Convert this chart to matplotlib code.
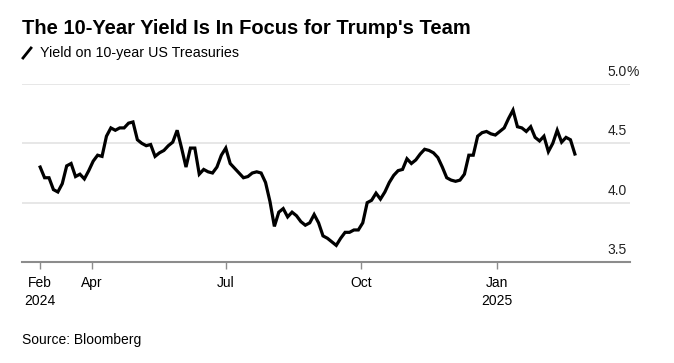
import numpy as np
import pandas as pd
import matplotlib
matplotlib.use('Agg')
import matplotlib.pyplot as plt
import matplotlib.dates as mdates
import matplotlib.transforms as mtransforms
from matplotlib.lines import Line2D

plt.rcParams['font.family'] = ['Liberation Sans', 'DejaVu Sans']

# yield on 10-year US Treasuries, read every 3 days starting 2024-02-26
start = '2024-02-26'
yields = [
    4.30, 4.21, 4.21, 4.11, 4.09, 4.16, 4.31, 4.33, 4.22, 4.24,
    4.20, 4.27, 4.35, 4.40, 4.39, 4.56, 4.63, 4.61, 4.63, 4.63,
    4.67, 4.68, 4.53, 4.50, 4.48, 4.49, 4.39, 4.42, 4.44, 4.48,
    4.51, 4.61, 4.46, 4.30, 4.46, 4.46, 4.24, 4.28, 4.26, 4.25,
    4.30, 4.40, 4.46, 4.33, 4.29, 4.25, 4.21, 4.22, 4.25, 4.26,
    4.25, 4.17, 4.01, 3.80, 3.92, 3.95, 3.88, 3.92, 3.89, 3.84,
    3.81, 3.83, 3.90, 3.83, 3.72, 3.70, 3.67, 3.64, 3.70, 3.75,
    3.75, 3.77, 3.77, 3.83, 4.00, 4.02, 4.08, 4.03, 4.09, 4.17,
    4.23, 4.27, 4.28, 4.37, 4.33, 4.36, 4.41, 4.45, 4.44, 4.42,
    4.38, 4.30, 4.21, 4.19, 4.18, 4.19, 4.24, 4.40, 4.40, 4.56,
    4.59, 4.60, 4.58, 4.57, 4.60, 4.63, 4.71, 4.78, 4.64, 4.63,
    4.60, 4.64, 4.55, 4.52, 4.56, 4.43, 4.50, 4.61, 4.51, 4.55,
    4.53, 4.41,
]
dates = pd.date_range(start, periods=len(yields), freq='3D')

tick_dates = ['2024-02-26', '2024-04-01', '2024-07-01', '2024-10-01', '2025-01-01']
tick_labels = ['Feb\n2024', 'Apr', 'Jul', 'Oct', 'Jan\n2025']
y_ticks = [3.5, 4.0, 4.5, 5.0]
y_labels = ['3.5', '4.0', '4.5', '5.0']

W, H = 674, 363
fig = plt.figure(figsize=(W / 100, H / 100), dpi=100)
ax = fig.add_axes([22 / W, 1 - 262 / H, (630 - 22) / W, (262 - 84) / H])

ax.plot(dates, yields, color='black', lw=2.3, solid_joinstyle='miter')

ax.set_ylim(3.5, 5.0)
ax.set_xlim(pd.Timestamp('2024-02-13 16:00'), pd.Timestamp('2025-04-01 10:00'))

for v in y_ticks[1:]:
    ax.axhline(v, color='#e3e3e3', lw=1.2, zorder=0)
for s in ['top', 'right', 'left']:
    ax.spines[s].set_visible(False)
ax.spines['bottom'].set_color('#8c8c8c')
ax.spines['bottom'].set_linewidth(1.5)

ax.set_yticks([])
ax.set_xticks(pd.to_datetime(tick_dates))
ax.set_xticklabels(tick_labels, fontsize=10, linespacing=1.4)
ax.tick_params(axis='x', length=5, width=1, color='#8c8c8c', pad=5)

off = mtransforms.offset_copy(ax.get_yaxis_transform(), fig=fig, x=0, y=8, units='dots')
for v, lab in zip(y_ticks, y_labels):
    ax.text(0.995, v, lab, transform=off, ha='right', va='baseline', fontsize=10, color='#222222')
ax.text(0.995, y_ticks[-1], '%', transform=off, ha='left', va='baseline', fontsize=10, color='#222222')

fig.text(22 / W, 1 - 28 / H, "The 10-Year Yield Is In Focus for Trump's Team",
         fontsize=14.5, fontweight='bold', va='center', ha='left')
fig.add_artist(Line2D([23 / W, 31 / W], [1 - 58 / H, 1 - 48 / H], color='black', lw=2))
fig.text(40 / W, 1 - 53 / H, 'Yield on 10-year US Treasuries', fontsize=10.3, va='center', ha='left')
fig.text(22 / W, 1 - 340 / H, 'Source: Bloomberg', fontsize=10, va='center', ha='left')

fig.savefig('out.png', dpi=100)
